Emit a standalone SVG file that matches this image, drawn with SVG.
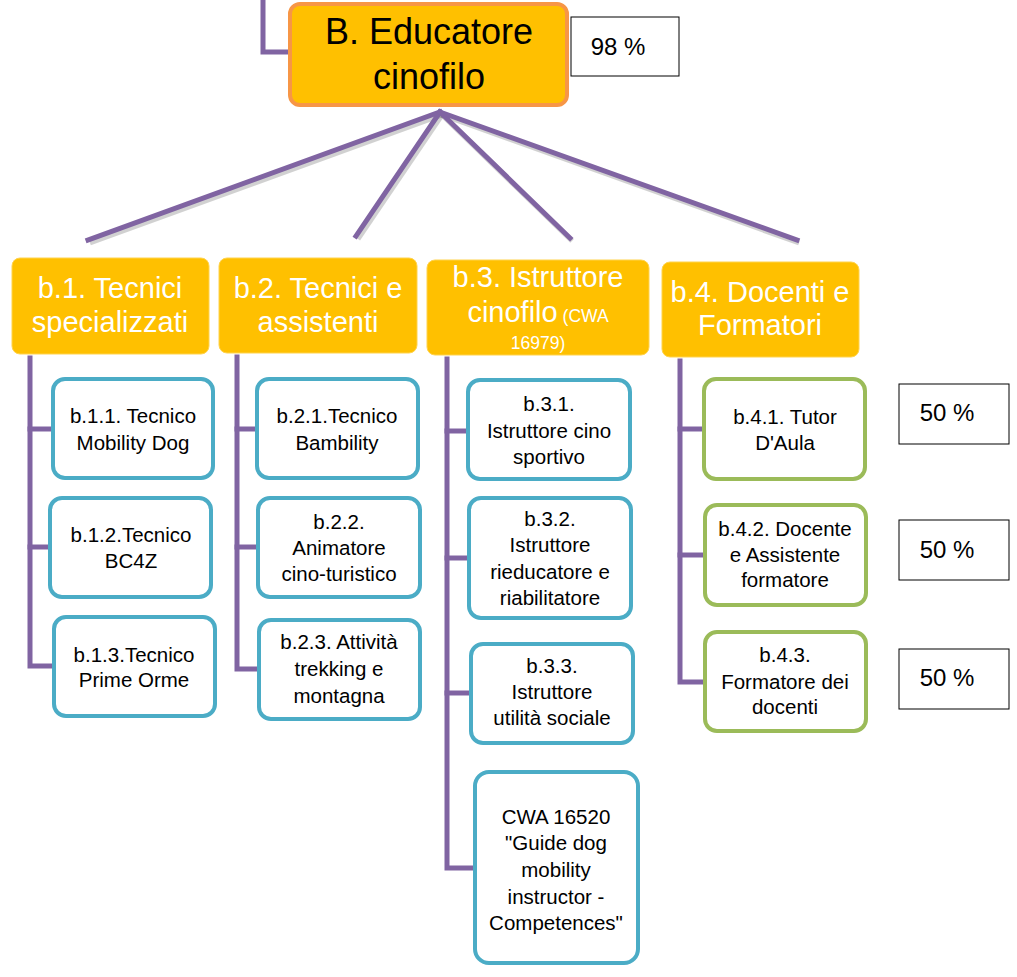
<svg xmlns="http://www.w3.org/2000/svg" width="1017" height="977" viewBox="0 0 1017 977">
<defs>
<style>
.con{fill:none;stroke:#8064A2;stroke-width:5;stroke-linecap:square;stroke-linejoin:miter}
.sh{fill:none;stroke:#000;stroke-opacity:0.18;stroke-width:5}
.top{fill:#FFC000;stroke:#F79646;stroke-width:4}
.cat{fill:#FFC000;stroke:#FFD34D;stroke-width:1}
.blue{fill:#fff;stroke:#4BACC6;stroke-width:4}
.green{fill:#fff;stroke:#9BBB59;stroke-width:4}
.pct{fill:#fff;stroke:#000;stroke-width:1}
text{font-family:"Liberation Sans",Arial,sans-serif;text-anchor:middle}
.tt{font-size:36px;fill:#000}
.ct{font-size:29px;fill:#fff}
.cs{font-size:17.5px;fill:#fff}
.nt{font-size:20.5px;fill:#000}
.pt{font-size:24px;fill:#000}
</style>
</defs>
<rect width="1017" height="977" fill="#fff"/>
<g id="connectors">
<g class="sh" transform="translate(2,3)">
<line x1="440" y1="112" x2="88" y2="240"/>
<line x1="440" y1="112" x2="356" y2="236"/>
<line x1="440" y1="112" x2="570" y2="238"/>
<line x1="440" y1="112" x2="797" y2="240"/>
</g>
<polyline class="con" points="263,0 263,52 290,52"/>
<line class="con" x1="440" y1="112" x2="88" y2="240"/>
<line class="con" x1="440" y1="112" x2="356" y2="236"/>
<line class="con" x1="440" y1="112" x2="570" y2="238"/>
<line class="con" x1="440" y1="112" x2="797" y2="240"/>
<polyline class="con" points="30,358 30,666 52,666"/>
<line class="con" x1="30" y1="429" x2="51" y2="429"/>
<line class="con" x1="30" y1="547" x2="48" y2="547"/>
<polyline class="con" points="237,357 237,669 255,669"/>
<line class="con" x1="237" y1="429" x2="255" y2="429"/>
<line class="con" x1="237" y1="547" x2="254" y2="547"/>
<polyline class="con" points="447,359 447,868 471,868"/>
<line class="con" x1="447" y1="431" x2="464" y2="431"/>
<line class="con" x1="447" y1="558" x2="465" y2="558"/>
<line class="con" x1="447" y1="693" x2="467" y2="693"/>
<polyline class="con" points="680,361 680,682 701,682"/>
<line class="con" x1="680" y1="429" x2="700" y2="429"/>
<line class="con" x1="680" y1="555" x2="701" y2="555"/>
</g>
<g id="B">
<rect class="top" x="290" y="4" width="277" height="101" rx="10"/>
<text class="tt" x="429" y="44">B. Educatore</text>
<text class="tt" x="429" y="89">cinofilo</text>
</g>
<g id="pct98">
<rect class="pct" x="571" y="17" width="108" height="59"/>
<text class="pt" x="618" y="55">98 %</text>
</g>
<g id="b1">
<rect class="cat" x="12" y="258" width="197" height="96" rx="8"/>
<text class="ct" x="110" y="298">b.1. Tecnici</text>
<text class="ct" x="110" y="332">specializzati</text>
</g>
<g id="b2">
<rect class="cat" x="219" y="258" width="198" height="95" rx="8"/>
<text class="ct" x="318" y="298">b.2. Tecnici e</text>
<text class="ct" x="318" y="332">assistenti</text>
</g>
<g id="b3">
<rect class="cat" x="427" y="260" width="222" height="95" rx="8"/>
<text class="ct" x="538" y="287">b.3. Istruttore</text>
<text x="538" y="322"><tspan class="ct">cinofilo</tspan><tspan class="cs"> (CWA</tspan></text>
<text class="cs" x="538" y="349">16979)</text>
</g>
<g id="b4">
<rect class="cat" x="662" y="262" width="197" height="95" rx="8"/>
<text class="ct" x="760" y="302">b.4. Docenti e</text>
<text class="ct" x="760" y="335">Formatori</text>
</g>
<g id="b11">
<rect class="blue" x="53" y="379" width="160" height="99" rx="12"/>
<text class="nt" x="133" y="423">b.1.1. Tecnico</text>
<text class="nt" x="133" y="450">Mobility Dog</text>
</g>
<g id="b12">
<rect class="blue" x="50" y="498" width="161" height="99" rx="12"/>
<text class="nt" x="131" y="542">b.1.2.Tecnico</text>
<text class="nt" x="131" y="568">BC4Z</text>
</g>
<g id="b13">
<rect class="blue" x="54" y="617" width="161" height="99" rx="12"/>
<text class="nt" x="134" y="662">b.1.3.Tecnico</text>
<text class="nt" x="134" y="687">Prime Orme</text>
</g>
<g id="b21">
<rect class="blue" x="257" y="379" width="161" height="99" rx="12"/>
<text class="nt" x="337" y="423">b.2.1.Tecnico</text>
<text class="nt" x="337" y="450">Bambility</text>
</g>
<g id="b22">
<rect class="blue" x="258" y="498" width="162" height="99" rx="12"/>
<text class="nt" x="339" y="529">b.2.2.</text>
<text class="nt" x="339" y="555">Animatore</text>
<text class="nt" x="339" y="581">cino-turistico</text>
</g>
<g id="b23">
<rect class="blue" x="259" y="620" width="161" height="99" rx="12"/>
<text class="nt" x="339" y="649">b.2.3. Attività</text>
<text class="nt" x="339" y="676">trekking e</text>
<text class="nt" x="339" y="703">montagna</text>
</g>
<g id="b31">
<rect class="blue" x="468" y="380" width="162" height="99" rx="12"/>
<text class="nt" x="549" y="411">b.3.1.</text>
<text class="nt" x="549" y="438">Istruttore cino</text>
<text class="nt" x="549" y="464">sportivo</text>
</g>
<g id="b32">
<rect class="blue" x="469" y="498" width="162" height="120" rx="12"/>
<text class="nt" x="550" y="526">b.3.2.</text>
<text class="nt" x="550" y="552">Istruttore</text>
<text class="nt" x="550" y="579">rieducatore e</text>
<text class="nt" x="550" y="605">riabilitatore</text>
</g>
<g id="b33">
<rect class="blue" x="471" y="644" width="162" height="99" rx="12"/>
<text class="nt" x="552" y="673">b.3.3.</text>
<text class="nt" x="552" y="699">Istruttore</text>
<text class="nt" x="552" y="725">utilità sociale</text>
</g>
<g id="cwa">
<rect class="blue" x="475" y="772" width="163" height="191" rx="14"/>
<text class="nt" x="556" y="824">CWA 16520</text>
<text class="nt" x="556" y="850">"Guide dog</text>
<text class="nt" x="556" y="877">mobility</text>
<text class="nt" x="556" y="904">instructor -</text>
<text class="nt" x="556" y="930">Competences"</text>
</g>
<g id="b41">
<rect class="green" x="704" y="379" width="161" height="100" rx="12"/>
<text class="nt" x="785" y="424">b.4.1. Tutor</text>
<text class="nt" x="785" y="450">D'Aula</text>
</g>
<g id="b42">
<rect class="green" x="705" y="505" width="161" height="100" rx="12"/>
<text class="nt" x="785" y="536">b.4.2. Docente</text>
<text class="nt" x="785" y="562">e Assistente</text>
<text class="nt" x="785" y="587">formatore</text>
</g>
<g id="b43">
<rect class="green" x="705" y="632" width="161" height="99" rx="12"/>
<text class="nt" x="785" y="662">b.4.3.</text>
<text class="nt" x="785" y="689">Formatore dei</text>
<text class="nt" x="785" y="714">docenti</text>
</g>
<g id="pct1">
<rect class="pct" x="899" y="384" width="110" height="60"/>
<text class="pt" x="947" y="421">50 %</text>
</g>
<g id="pct2">
<rect class="pct" x="899" y="520" width="110" height="60"/>
<text class="pt" x="947" y="558">50 %</text>
</g>
<g id="pct3">
<rect class="pct" x="899" y="649" width="110" height="60"/>
<text class="pt" x="947" y="686">50 %</text>
</g>
</svg>
